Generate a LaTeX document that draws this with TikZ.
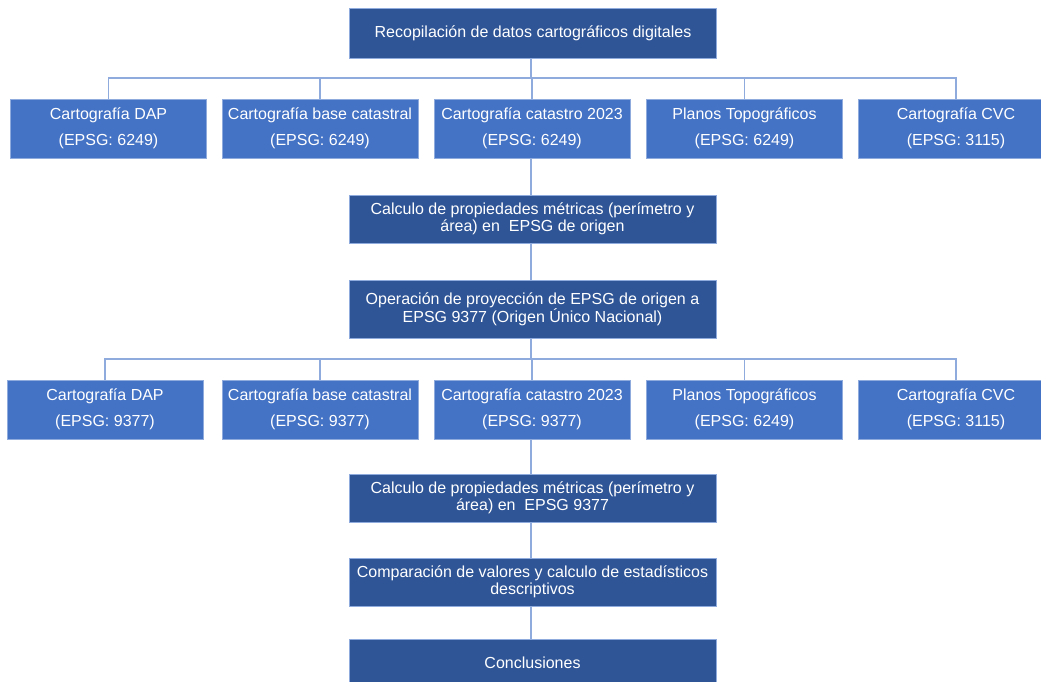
\documentclass[tikz,border=0pt]{standalone}
\usepackage{fontspec}
\setmainfont{Liberation Sans}
\usetikzlibrary{positioning}
\definecolor{darkbox}{HTML}{2F5597}
\definecolor{lightbox}{HTML}{4472C4}
\definecolor{linkcolor}{HTML}{8FAADC}
\tikzset{
  stepbox/.style={fill=darkbox,draw=linkcolor,line width=0.6pt,text=white,
    minimum width=367pt,minimum height=48pt,inner sep=2pt,align=center,
    font=\fontsize{16}{17}\selectfont},
  srcbox/.style={fill=lightbox,draw=linkcolor,line width=0.6pt,text=white,
    minimum width=196pt,minimum height=59pt,inner sep=2pt,align=center,
    font=\fontsize{16}{26}\selectfont},
  link/.style={draw=linkcolor,line width=1.2pt}
}

\begin{document}
\begin{tikzpicture}[x=1pt,y=-1pt]
  \useasboundingbox (0,0) rectangle (1041,682);

  % first stage
  \node[stepbox,minimum height=50pt] (top) at (533,33) {Recopilación de datos cartográficos digitales};
  \node[srcbox] (a1) at (108.5,128.5) {Cartografía DAP\\(EPSG: 6249)};
  \node[srcbox] (a2) at (320,128.5) {Cartografía base catastral\\(EPSG: 6249)};
  \node[srcbox] (a3) at (532,128.5) {Cartografía catastro 2023\\(EPSG: 6249)};
  \node[srcbox] (a4) at (744.5,128.5) {Planos Topográficos\\(EPSG: 6249)};
  \node[srcbox] (a5) at (956,128.5) {Cartografía CVC\\(EPSG: 3115)};
  \node[stepbox] (calcA) at (532.5,219) {Calculo de propiedades métricas (perímetro y\\área) en\ \ EPSG de origen};
  \node[stepbox,minimum height=58pt] (proj) at (532.5,309) {Operación de proyección de EPSG de origen a\\EPSG 9377 (Origen Único Nacional)};

  % second stage
  \node[srcbox] (b1) at (105,409.5) {Cartografía DAP\\(EPSG: 9377)};
  \node[srcbox] (b2) at (320,409.5) {Cartografía base catastral\\(EPSG: 9377)};
  \node[srcbox] (b3) at (532,409.5) {Cartografía catastro 2023\\(EPSG: 9377)};
  \node[srcbox] (b4) at (744.5,409.5) {Planos Topográficos\\(EPSG: 6249)};
  \node[srcbox] (b5) at (956,409.5) {Cartografía CVC\\(EPSG: 3115)};
  \node[stepbox] (calcB) at (532.5,498) {Calculo de propiedades métricas (perímetro y\\área) en\ \ EPSG 9377};
  \node[stepbox] (comp) at (532.5,582) {Comparación de valores y calculo de estadísticos\\descriptivos};
  \node[stepbox] (concl) at (532.5,663) {Conclusiones};

  % connectors
  \coordinate (busA) at (531,78);
  \coordinate (busB) at (531,359);
  \draw[link] (top.south -| busA) -- (busA);
  \foreach \n in {a1,a2,a3,a4,a5}
    \draw[link] (\n.north) |- (busA);
  \draw[link] (a3.south -| busA) -- (calcA.north -| busA);
  \draw[link] (calcA.south -| busA) -- (proj.north -| busA);
  \draw[link] (proj.south -| busB) -- (busB);
  \foreach \n in {b1,b2,b3,b4,b5}
    \draw[link] (\n.north) |- (busB);
  \draw[link] (b3.south -| busB) -- (calcB.north -| busB);
  \draw[link] (calcB.south -| busB) -- (comp.north -| busB);
  \draw[link] (comp.south -| busB) -- (concl.north -| busB);
\end{tikzpicture}
\end{document}
